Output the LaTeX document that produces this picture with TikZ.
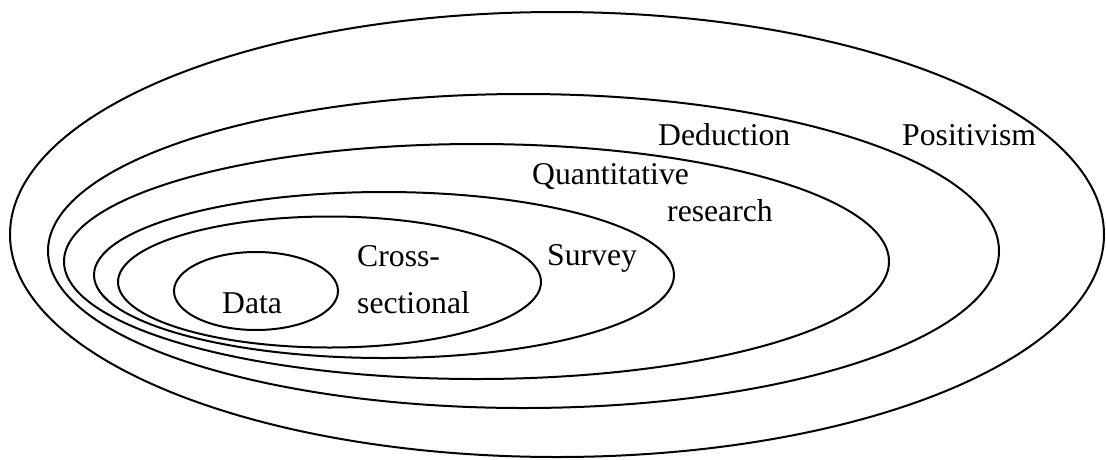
\documentclass[tikz,border=0pt]{standalone}
\usepackage{fontspec}
\setmainfont{Liberation Serif}
\usetikzlibrary{shapes.geometric}

\tikzset{
  ring/.style={draw=black, line width=2pt, ellipse, inner sep=0pt, fill=none},
  tag/.style={anchor=base west, inner sep=0pt, font=\fontsize{31.7}{38}\selectfont}
}

\begin{document}
\begin{tikzpicture}[x=1pt, y=-1pt]
  \useasboundingbox (0,0) rectangle (1106,459);

  % nested layers, outermost first
  \node[ring, minimum width=1094pt, minimum height=445pt] (positivism) at (557,234.5) {};
  \node[ring, minimum width=951pt,  minimum height=314pt] (deduction)  at (523.5,251) {};
  \node[ring, minimum width=825pt,  minimum height=235pt] (quant)      at (476.5,261.5) {};
  \node[ring, minimum width=580pt,  minimum height=166pt] (survey)     at (384,275) {};
  \node[ring, minimum width=423pt,  minimum height=131pt] (cross)      at (329.5,282) {};
  \node[ring, minimum width=164pt,  minimum height=78pt]  (data)       at (256,291) {};

  % layer labels
  \node[tag] (tPositivism) at (902,145) {Positivism};
  \node[tag] (tDeduction)  at (658,145) {Deduction};
  \node[tag] (tQuant1)     at (532,184) {Quantitative};
  \node[tag] (tQuant2)     at (667,221) {research};
  \node[tag] (tSurvey)     at (547,265) {Survey};
  \node[tag] (tCross1)     at (357,266) {Cross-};
  \node[tag] (tCross2)     at (357,313) {sectional};
  \node[tag] (tData)       at (222,313) {Data};
\end{tikzpicture}
\end{document}
